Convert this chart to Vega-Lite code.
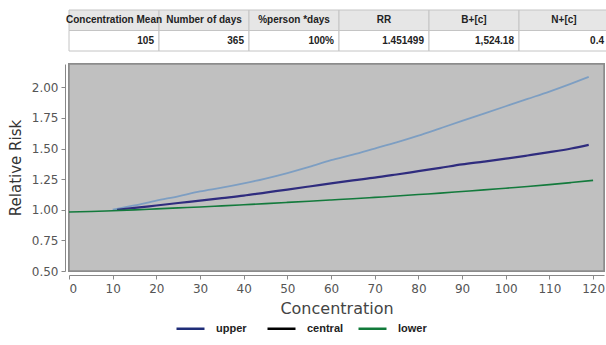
{
  "$schema": "https://vega.github.io/schema/vega-lite/v6.json",
  "background": "white",
  "padding": {"left": 8, "top": 9, "right": 0, "bottom": 0},
  "config": {
    "font": "DejaVu Sans",
    "view": {"stroke": null}
  },
  "datasets": {
    "table": [
      {"col": "Concentration Mean", "row": "header", "text": "Concentration Mean"},
      {"col": "Number of days", "row": "header", "text": "Number of days"},
      {"col": "%person *days", "row": "header", "text": "%person *days"},
      {"col": "RR", "row": "header", "text": "RR"},
      {"col": "B+[c]", "row": "header", "text": "B+[c]"},
      {"col": "N+[c]", "row": "header", "text": "N+[c]"},
      {"col": "Concentration Mean", "row": "value", "text": "105"},
      {"col": "Number of days", "row": "value", "text": "365"},
      {"col": "%person *days", "row": "value", "text": "100%"},
      {"col": "RR", "row": "value", "text": "1.451499"},
      {"col": "B+[c]", "row": "value", "text": "1,524.18"},
      {"col": "N+[c]", "row": "value", "text": "0.4"}
    ],
    "curves": [
      {"series": "upper", "conc": 10, "rr": 1.0},
      {"series": "upper", "conc": 15, "rr": 1.035},
      {"series": "upper", "conc": 20, "rr": 1.075},
      {"series": "upper", "conc": 25, "rr": 1.11},
      {"series": "upper", "conc": 30, "rr": 1.15},
      {"series": "upper", "conc": 35, "rr": 1.18},
      {"series": "upper", "conc": 40, "rr": 1.215},
      {"series": "upper", "conc": 45, "rr": 1.255},
      {"series": "upper", "conc": 50, "rr": 1.3},
      {"series": "upper", "conc": 55, "rr": 1.35},
      {"series": "upper", "conc": 60, "rr": 1.405},
      {"series": "upper", "conc": 65, "rr": 1.45},
      {"series": "upper", "conc": 70, "rr": 1.5},
      {"series": "upper", "conc": 75, "rr": 1.55},
      {"series": "upper", "conc": 80, "rr": 1.605},
      {"series": "upper", "conc": 85, "rr": 1.665},
      {"series": "upper", "conc": 90, "rr": 1.725},
      {"series": "upper", "conc": 95, "rr": 1.785},
      {"series": "upper", "conc": 100, "rr": 1.845},
      {"series": "upper", "conc": 105, "rr": 1.905},
      {"series": "upper", "conc": 110, "rr": 1.965},
      {"series": "upper", "conc": 115, "rr": 2.03},
      {"series": "upper", "conc": 119, "rr": 2.085},
      {"series": "central", "conc": 11, "rr": 1.0},
      {"series": "central", "conc": 15, "rr": 1.015},
      {"series": "central", "conc": 20, "rr": 1.035},
      {"series": "central", "conc": 25, "rr": 1.055},
      {"series": "central", "conc": 30, "rr": 1.075},
      {"series": "central", "conc": 35, "rr": 1.095},
      {"series": "central", "conc": 40, "rr": 1.115},
      {"series": "central", "conc": 45, "rr": 1.14},
      {"series": "central", "conc": 50, "rr": 1.165},
      {"series": "central", "conc": 55, "rr": 1.19},
      {"series": "central", "conc": 60, "rr": 1.215},
      {"series": "central", "conc": 65, "rr": 1.24},
      {"series": "central", "conc": 70, "rr": 1.262},
      {"series": "central", "conc": 75, "rr": 1.288},
      {"series": "central", "conc": 80, "rr": 1.315},
      {"series": "central", "conc": 85, "rr": 1.342},
      {"series": "central", "conc": 90, "rr": 1.37},
      {"series": "central", "conc": 95, "rr": 1.393},
      {"series": "central", "conc": 100, "rr": 1.417},
      {"series": "central", "conc": 105, "rr": 1.443},
      {"series": "central", "conc": 110, "rr": 1.47},
      {"series": "central", "conc": 115, "rr": 1.5},
      {"series": "central", "conc": 119, "rr": 1.53},
      {"series": "lower", "conc": 0, "rr": 0.982},
      {"series": "lower", "conc": 5, "rr": 0.986},
      {"series": "lower", "conc": 10, "rr": 0.992},
      {"series": "lower", "conc": 15, "rr": 0.999},
      {"series": "lower", "conc": 20, "rr": 1.007},
      {"series": "lower", "conc": 25, "rr": 1.015},
      {"series": "lower", "conc": 30, "rr": 1.023},
      {"series": "lower", "conc": 35, "rr": 1.032},
      {"series": "lower", "conc": 40, "rr": 1.041},
      {"series": "lower", "conc": 45, "rr": 1.05},
      {"series": "lower", "conc": 50, "rr": 1.06},
      {"series": "lower", "conc": 55, "rr": 1.07},
      {"series": "lower", "conc": 60, "rr": 1.08},
      {"series": "lower", "conc": 65, "rr": 1.09},
      {"series": "lower", "conc": 70, "rr": 1.101},
      {"series": "lower", "conc": 75, "rr": 1.112},
      {"series": "lower", "conc": 80, "rr": 1.124},
      {"series": "lower", "conc": 85, "rr": 1.136},
      {"series": "lower", "conc": 90, "rr": 1.149},
      {"series": "lower", "conc": 95, "rr": 1.162},
      {"series": "lower", "conc": 100, "rr": 1.176},
      {"series": "lower", "conc": 105, "rr": 1.19},
      {"series": "lower", "conc": 110, "rr": 1.205},
      {"series": "lower", "conc": 115, "rr": 1.222},
      {"series": "lower", "conc": 120, "rr": 1.24}
    ],
    "legendKeys": [
      {"key": "upper"},
      {"key": "central"},
      {"key": "lower"}
    ]
  },
  "bounds": "flush",
  "spacing": 13,
  "vconcat": [
    {
      "width": 540,
      "height": 41,
      "data": {"name": "table"},
      "encoding": {
        "x": {"field": "col", "type": "nominal", "sort": null, "axis": null,
              "scale": {"paddingInner": 0, "paddingOuter": 0}},
        "y": {"field": "row", "type": "nominal", "sort": ["header", "value"], "axis": null,
              "scale": {"paddingInner": 0, "paddingOuter": 0}}
      },
      "layer": [
        {
          "mark": {"type": "rect", "stroke": "#c4c4c4", "strokeWidth": 1},
          "encoding": {
            "fill": {"field": "row", "type": "nominal", "legend": null,
                     "scale": {"domain": ["header", "value"], "range": ["#e6e6e6", "#ffffff"]}}
          }
        },
        {
          "transform": [{"filter": "datum.row === 'header'"}],
          "mark": {"type": "text", "font": "Liberation Sans", "fontSize": 10, "fontWeight": "bold", "color": "#222222", "align": "center", "baseline": "middle"},
          "encoding": {"text": {"field": "text"}}
        },
        {
          "transform": [{"filter": "datum.row === 'value'"}],
          "mark": {"type": "text", "font": "Liberation Sans", "fontSize": 10, "fontWeight": "bold", "color": "#222222", "align": "right", "baseline": "middle", "dx": -5},
          "encoding": {
            "x": {"field": "col", "type": "nominal", "sort": null, "bandPosition": 1},
            "text": {"field": "text"}
          }
        }
      ]
    },
    {
      "width": 535,
      "height": 207,
      "encoding": {
        "x": {"field": "conc", "type": "quantitative", "title": "Concentration",
              "scale": {"domain": [0, 122.5], "nice": false, "zero": false},
              "axis": {"values": [0, 10, 20, 30, 40, 50, 60, 70, 80, 90, 100, 110, 120],
                       "offset": 4, "grid": true, "gridColor": "#f2f2f2", "gridDash": [3, 2], "gridWidth": 1,
                       "domainColor": "#888888", "tickColor": "#888888", "tickSize": 4,
                       "labelColor": "#555555", "labelFontSize": 12, "labelPadding": 4,
                       "titleColor": "#444444", "titleFontSize": 16, "titleFontWeight": "normal", "titlePadding": 6}},
        "y": {"field": "rr", "type": "quantitative", "title": "Relative Risk",
              "scale": {"domain": [0.5, 2.19], "nice": false, "zero": false},
              "axis": {"values": [0.5, 0.75, 1.0, 1.25, 1.5, 1.75, 2.0], "format": ".2f",
                       "offset": 4, "grid": true, "gridColor": "#f2f2f2", "gridDash": [3, 2], "gridWidth": 1,
                       "domainColor": "#888888", "tickColor": "#888888", "tickSize": 4,
                       "labelColor": "#555555", "labelFontSize": 12, "labelPadding": 3,
                       "titleColor": "#333333", "titleFontSize": 15, "titleFontWeight": "normal", "titlePadding": 8}}
      },
      "layer": [
        {
          "data": {"name": "curves"},
          "mark": {"type": "rect", "fill": "#c0c0c0", "stroke": "#8c8c8c", "strokeWidth": 1.5},
          "encoding": {
            "x": {"datum": 0},
            "x2": {"datum": 122.5},
            "y": {"datum": 0.5},
            "y2": {"datum": 2.19}
          }
        },
        {
          "data": {"name": "curves"},
          "transform": [{"filter": "datum.series === 'upper'"}],
          "mark": {"type": "line", "color": "#7d9ec2", "strokeWidth": 1.8, "interpolate": "monotone"}
        },
        {
          "data": {"name": "curves"},
          "transform": [{"filter": "datum.series === 'central'"}],
          "mark": {"type": "line", "color": "#2f2c7e", "strokeWidth": 2.2, "interpolate": "monotone"}
        },
        {
          "data": {"name": "curves"},
          "transform": [{"filter": "datum.series === 'lower'"}],
          "mark": {"type": "line", "color": "#137a3c", "strokeWidth": 1.6, "interpolate": "monotone"}
        },
        {
          "data": {"name": "legendKeys"},
          "mark": {"type": "point", "opacity": 0, "filled": false},
          "encoding": {
            "x": {"datum": 0},
            "y": {"datum": 1},
            "stroke": {"field": "key", "type": "nominal", "title": null,
                       "scale": {"domain": ["upper", "central", "lower"], "range": ["#1f2d78", "#000000", "#117a3a"]},
                       "legend": {"orient": "none", "legendX": 106, "legendY": 303, "direction": "horizontal", "symbolType": "stroke",
                                  "symbolOpacity": 1, "symbolStrokeWidth": 2.5, "symbolSize": 784,
                                  "labelFont": "Liberation Sans", "labelFontSize": 11, "labelFontWeight": "bold", "labelColor": "#222222",
                                  "labelOffset": 10, "gridAlign": "all", "columnPadding": 9}}
          }
        }
      ]
    }
  ]
}
